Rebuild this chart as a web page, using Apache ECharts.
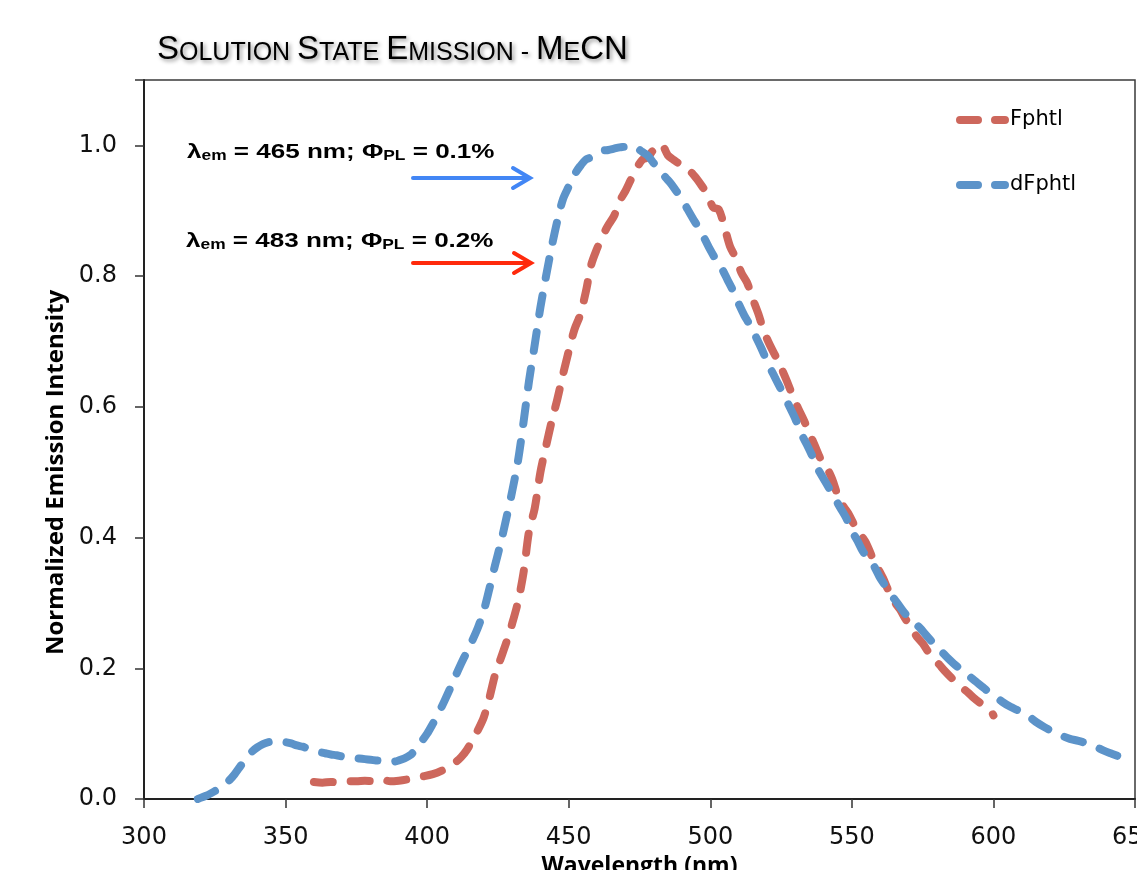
<!DOCTYPE html>
<html>
<head>
<meta charset="utf-8">
<script src="https://cdn.jsdelivr.net/npm/echarts@6/dist/echarts.min.js"></script>
<style>
  html, body { margin: 0; padding: 0; background: #fff; }
  #chart { width: 1137px; height: 870px; }
</style>
</head>
<body>
<div id="chart"></div>
<script>
// Emission spectra in acetonitrile, normalized to the maximum of each curve.
const seriesNames = ['Fphtl', 'dFphtl'];

const fphtlWavelength = [
  360, 363, 366, 369, 372, 375, 378, 381, 384, 387, 390, 393, 396, 399, 402, 405, 408, 410, 412, 414,
  416, 418, 420, 422, 424, 426, 428, 430, 432, 434, 436, 438, 440, 442, 444, 446, 448, 450, 452, 454,
  456, 458, 460, 462, 464, 466, 468, 470, 472, 474, 476, 478, 480, 482, 483, 485, 487, 489, 491, 493,
  495, 497, 499, 501, 503, 505, 507, 509, 511, 513, 515, 517, 519, 521, 523, 525, 527, 529, 531, 533,
  535, 537, 539, 541, 543, 545, 547, 549, 551, 553, 555, 557, 559, 561, 563, 565, 567, 569, 571, 573,
  575, 577, 579, 581, 583, 585, 587, 589, 591, 593, 595, 597, 599, 600
];
const fphtlIntensity = [
  0.026, 0.025, 0.026, 0.025, 0.027, 0.027, 0.028, 0.027, 0.030, 0.027, 0.028, 0.030, 0.033, 0.035, 0.038, 0.043, 0.050, 0.056, 0.064, 0.075,
  0.090, 0.106, 0.125, 0.155, 0.190, 0.215, 0.240, 0.268, 0.300, 0.345, 0.410, 0.445, 0.500, 0.540, 0.578, 0.612, 0.650, 0.685, 0.718, 0.740,
  0.775, 0.818, 0.842, 0.862, 0.878, 0.892, 0.915, 0.930, 0.948, 0.965, 0.978, 0.982, 0.992, 0.992, 1.000, 0.985, 0.978, 0.972, 0.965, 0.960,
  0.950, 0.938, 0.925, 0.905, 0.902, 0.875, 0.845, 0.828, 0.805, 0.790, 0.765, 0.742, 0.715, 0.695, 0.678, 0.660, 0.640, 0.618, 0.598, 0.580,
  0.560, 0.540, 0.520, 0.508, 0.490, 0.465, 0.448, 0.435, 0.418, 0.405, 0.392, 0.372, 0.355, 0.338, 0.318, 0.302, 0.290, 0.275, 0.262, 0.248,
  0.238, 0.225, 0.215, 0.205, 0.195, 0.186, 0.178, 0.170, 0.163, 0.155, 0.148, 0.142, 0.135, 0.128
];

const dfphtlWavelength = [
  319, 322, 325, 328, 330, 332, 334, 336, 338, 340, 342, 344, 346, 348, 350, 352, 354, 356, 358, 360,
  362, 364, 366, 368, 370, 372, 374, 376, 378, 380, 382, 384, 386, 388, 390, 392, 394, 396, 398, 400,
  402, 404, 406, 408, 410, 412, 414, 416, 418, 420, 422, 424, 426, 428, 430, 432, 434, 436, 438, 440,
  442, 444, 446, 448, 450, 452, 454, 456, 458, 460, 462, 464, 466, 468, 470, 472, 474, 476, 478, 480,
  482, 484, 486, 488, 490, 492, 494, 496, 498, 500, 502, 504, 506, 508, 510, 512, 514, 516, 518, 520,
  522, 524, 526, 528, 530, 532, 534, 536, 538, 540, 542, 544, 546, 548, 550, 552, 554, 556, 558, 560,
  562, 564, 566, 568, 570, 572, 574, 576, 578, 580, 582, 584, 586, 588, 590, 592, 594, 596, 598, 600,
  603, 606, 609, 612, 615, 618, 621, 624, 627, 630, 633, 636, 639, 642, 645, 648
];
const dfphtlIntensity = [
  0.000, 0.005, 0.012, 0.020, 0.028, 0.038, 0.050, 0.062, 0.072, 0.079, 0.084, 0.087, 0.088, 0.088, 0.087, 0.085, 0.082, 0.080, 0.077, 0.075,
  0.072, 0.070, 0.068, 0.067, 0.065, 0.064, 0.063, 0.062, 0.061, 0.060, 0.059, 0.058, 0.057, 0.057, 0.059, 0.062, 0.067, 0.076, 0.088, 0.100,
  0.115, 0.131, 0.149, 0.168, 0.188, 0.207, 0.225, 0.243, 0.263, 0.288, 0.322, 0.358, 0.392, 0.430, 0.470, 0.515, 0.575, 0.640, 0.695, 0.752,
  0.800, 0.845, 0.885, 0.918, 0.937, 0.955, 0.968, 0.978, 0.982, 0.988, 0.992, 0.993, 0.995, 0.997, 0.998, 1.000, 0.996, 0.990, 0.984, 0.973,
  0.964, 0.952, 0.942, 0.930, 0.918, 0.902, 0.887, 0.873, 0.857, 0.840, 0.825, 0.812, 0.795, 0.778, 0.758, 0.740, 0.725, 0.708, 0.690, 0.670,
  0.652, 0.635, 0.618, 0.600, 0.582, 0.560, 0.543, 0.525, 0.505, 0.490, 0.475, 0.460, 0.445, 0.430, 0.410, 0.395, 0.378, 0.368, 0.355, 0.338,
  0.325, 0.312, 0.300, 0.288, 0.278, 0.270, 0.262, 0.252, 0.242, 0.232, 0.224, 0.215, 0.207, 0.200, 0.194, 0.186, 0.179, 0.172, 0.165, 0.159,
  0.149, 0.141, 0.135, 0.128, 0.118, 0.110, 0.103, 0.097, 0.092, 0.089, 0.085, 0.080, 0.074, 0.069, 0.064, 0.060
];

const xTicks = { min: 300, max: 650, step: 50 };
const yTicks = { min: 0, max: 1.1, step: 0.2 };

const colors = ['#CD675C', '#5C93C9'];

function pairs(xs, ys) {
  return xs.map((x, i) => [x, ys[i]]);
}

const chart = echarts.init(document.getElementById('chart'), null, { renderer: 'canvas' });

const dashed = (color) => ({
  color: color,
  width: 8,
  type: [19, 18],
  cap: 'round',
  join: 'round'
});

// Legend swatch: two rounded dashes, like the plotted lines
const dashIcon = 'path://M4,0H22A4,4 0 0 1 22,8H4A4,4 0 0 1 4,0Z M39,0H49A4,4 0 0 1 49,8H39A4,4 0 0 1 39,0Z';

// Small-caps title built from rich-text runs
const shadow = { textShadowColor: 'rgba(0,0,0,0.45)', textShadowBlur: 4, textShadowOffsetX: 2, textShadowOffsetY: 2 };
const titleRich = {
  b: Object.assign({ fontSize: 33, lineHeight: 33, verticalAlign: 'bottom', fontFamily: 'Liberation Sans', color: '#111' }, shadow),
  s: Object.assign({ fontSize: 25, lineHeight: 27, verticalAlign: 'bottom', fontFamily: 'Liberation Sans', color: '#111' }, shadow)
};
const titleText = '{b|S}{s|OLUTION }{b|S}{s|TATE }{b|E}{s|MISSION - }{b|M}{s|E}{b|CN}';

const noteRich = {
  n: { fontSize: 21, lineHeight: 24, verticalAlign: 'bottom', fontWeight: 'bold', fontFamily: 'Liberation Sans', color: '#000' },
  s: { fontSize: 14, lineHeight: 11, verticalAlign: 'bottom', fontWeight: 'bold', fontFamily: 'Liberation Sans', color: '#000' }
};

function arrow(x1, x2, y, color) {
  return [
    { type: 'line', shape: { x1: x1, y1: y, x2: x2 - 2, y2: y }, style: { stroke: color, lineWidth: 4, lineCap: 'round' }, z: 10 },
    { type: 'polyline', shape: { points: [[x2 - 17, y - 10], [x2, y], [x2 - 17, y + 10]] },
      style: { stroke: color, lineWidth: 4, lineCap: 'round', lineJoin: 'miter', fill: null }, z: 10 }
  ];
}

const option = {
  animation: false,
  backgroundColor: '#fff',
  color: colors,
  grid: {
    left: 144, right: 2, top: 80, bottom: 71,
    containLabel: false,
    outerBoundsMode: 'none',
    show: true, borderColor: '#3a3a3a', borderWidth: 1.5, backgroundColor: 'transparent'
  },
  legend: {
    data: seriesNames.map((n) => ({ name: n, icon: dashIcon })),
    orient: 'vertical',
    left: 951,
    top: 103,
    itemWidth: 53,
    itemHeight: 8,
    itemGap: 41,
    textStyle: { fontFamily: 'DejaVu Sans', fontSize: 21, color: '#000', lineHeight: 24, padding: [0, 0, 0, -4] }
  },
  xAxis: {
    type: 'value',
    min: xTicks.min, max: xTicks.max, interval: xTicks.step,
    name: 'Wavelength (nm)',
    nameLocation: 'middle',
    nameGap: 56,
    nameTextStyle: { fontFamily: 'Open Sans', fontWeight: 'bold', fontSize: 23, color: '#000' },
    axisLine: { onZero: false, lineStyle: { color: '#222', width: 2 } },
    axisTick: { show: true, inside: false, length: 9, lineStyle: { color: '#333', width: 1.5 } },
    axisLabel: { margin: 27, fontFamily: 'DejaVu Sans', fontSize: 24, color: '#111', showMaxLabel: true, hideOverlap: false },
    splitLine: { show: false }
  },
  yAxis: {
    type: 'value',
    min: yTicks.min, max: yTicks.max, interval: yTicks.step,
    name: 'Normalized Emission Intensity',
    nameLocation: 'middle',
    nameGap: 69,
    nameTextStyle: { fontFamily: 'Open Sans', fontWeight: 'bold', fontSize: 24, color: '#000', padding: [0, 66, 0, 0] },
    axisLine: { onZero: false, lineStyle: { color: '#222', width: 2 } },
    axisTick: { show: true, inside: false, length: 9, lineStyle: { color: '#333', width: 1.5 } },
    axisLabel: {
      margin: 27, fontFamily: 'DejaVu Sans', fontSize: 24, color: '#111',
      formatter: (v) => (v > 1.05 ? '' : v.toFixed(1))
    },
    splitLine: { show: false }
  },
  series: [
    {
      name: seriesNames[0], type: 'line', data: pairs(fphtlWavelength, fphtlIntensity),
      showSymbol: false, symbol: 'none', smooth: 0.3, lineStyle: dashed(colors[0]), z: 2
    },
    {
      name: seriesNames[1], type: 'line', data: pairs(dfphtlWavelength, dfphtlIntensity),
      showSymbol: false, symbol: 'none', smooth: 0.3, lineStyle: dashed(colors[1]), z: 3
    }
  ],
  graphic: [
    { type: 'text', x: 157, y: 33, style: { text: titleText, rich: titleRich }, z: 10 },
    { type: 'text', x: 187, y: 139, scaleX: 1.24, style: { text: '{n|λ}{s|em}{n| = 465 nm; Φ}{s|PL}{n| = 0.1%}', rich: noteRich }, z: 10 },
    { type: 'text', x: 186, y: 228, scaleX: 1.24, style: { text: '{n|λ}{s|em}{n| = 483 nm; Φ}{s|PL}{n| = 0.2%}', rich: noteRich }, z: 10 },
    ...arrow(413, 530, 178, '#4286F5'),
    ...arrow(413, 531, 263, '#FF2A0C')
  ]
};

chart.setOption(option);
</script>
</body>
</html>
